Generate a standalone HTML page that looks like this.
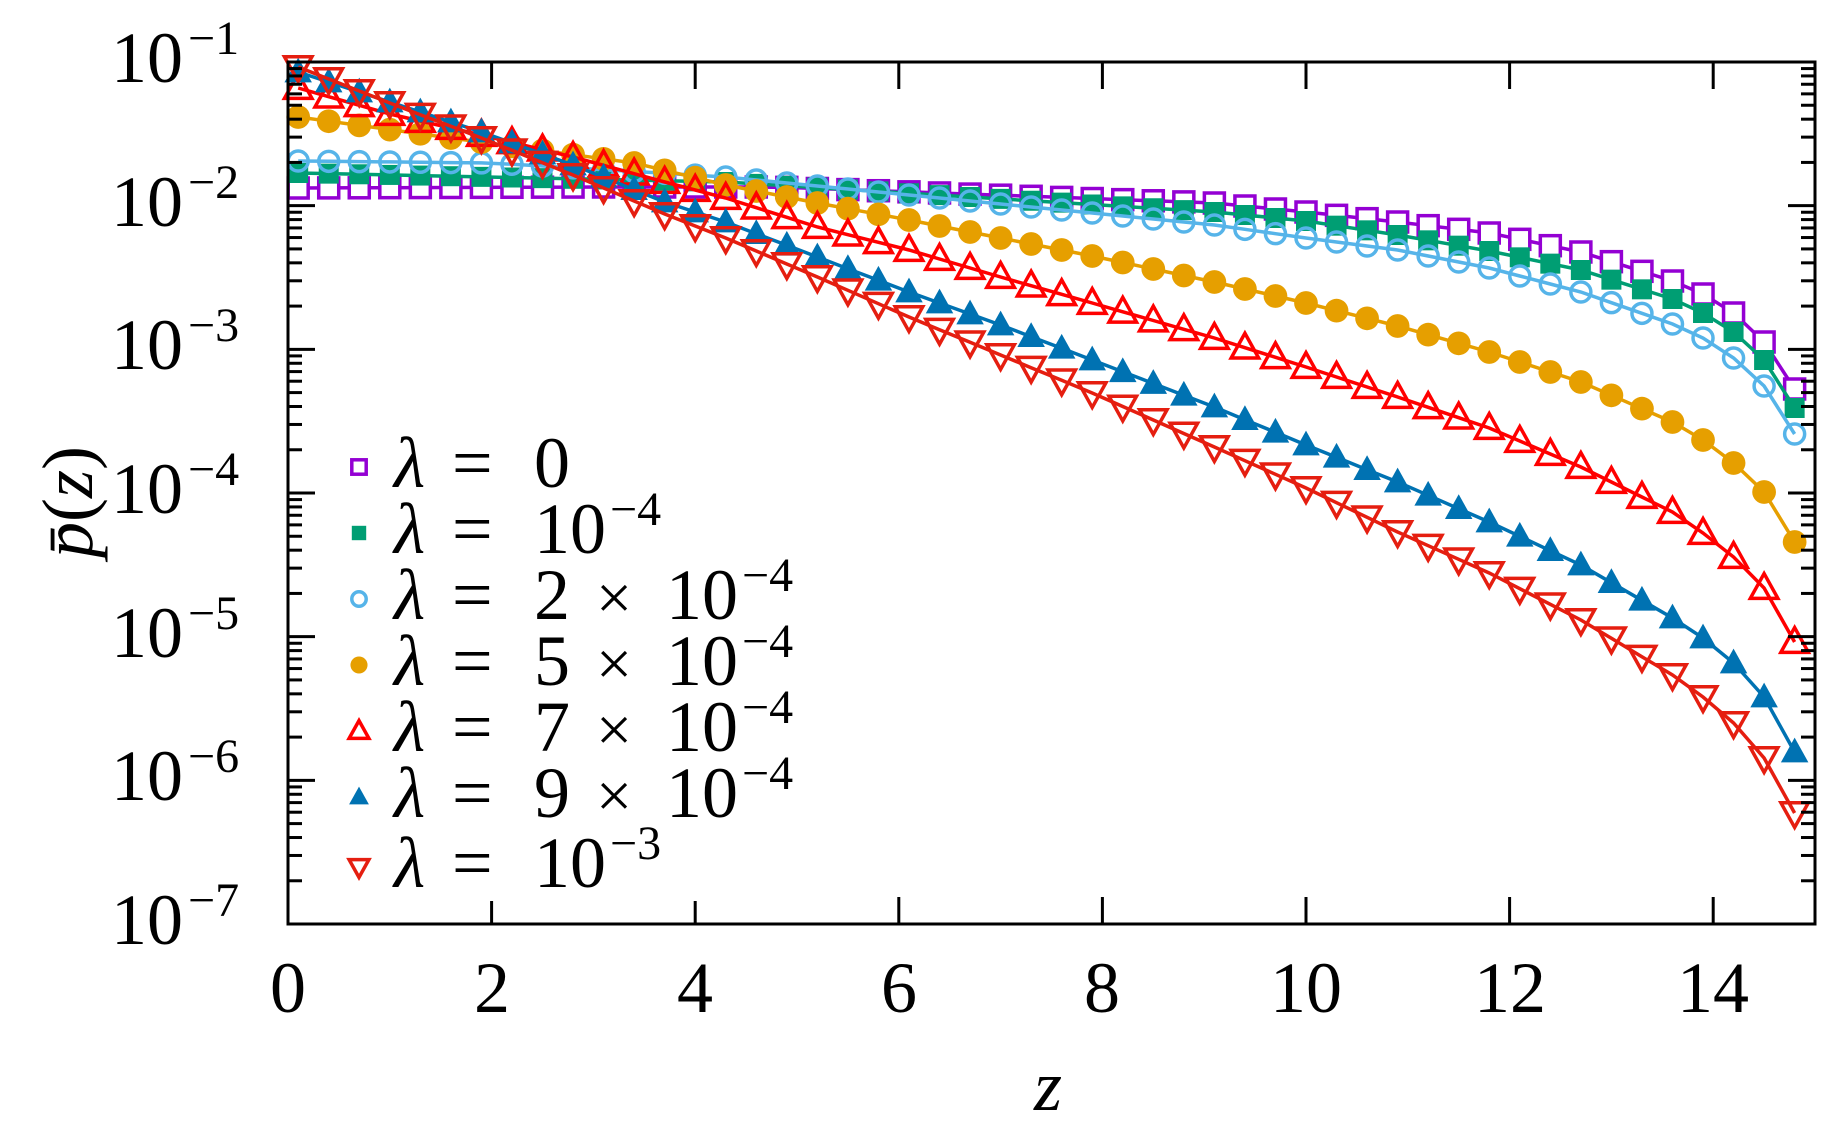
<!DOCTYPE html>
<html><head><meta charset="utf-8">
<style>
html,body{margin:0;padding:0;background:#fff;}
svg{display:block;}
text{font-family:"Liberation Serif","DejaVu Serif",serif;fill:#000;}
</style></head>
<body>
<svg id="s" width="1840" height="1139" viewBox="0 0 1840 1139" xmlns="http://www.w3.org/2000/svg">
<g id="data"></g>
<g id="axes"></g>
<g id="lab">
<text x="183" y="82" font-size="72" text-anchor="end">10</text><text x="188" y="54" font-size="48">−1</text>
<text x="183" y="226" font-size="72" text-anchor="end">10</text><text x="188" y="198" font-size="48">−2</text>
<text x="183" y="369" font-size="72" text-anchor="end">10</text><text x="188" y="341" font-size="48">−3</text>
<text x="183" y="513" font-size="72" text-anchor="end">10</text><text x="188" y="485" font-size="48">−4</text>
<text x="183" y="657" font-size="72" text-anchor="end">10</text><text x="188" y="629" font-size="48">−5</text>
<text x="183" y="800" font-size="72" text-anchor="end">10</text><text x="188" y="772" font-size="48">−6</text>
<text x="183" y="944" font-size="72" text-anchor="end">10</text><text x="188" y="916" font-size="48">−7</text>
<g font-size="72" text-anchor="middle">
<text x="288" y="1012">0</text><text x="492" y="1012">2</text><text x="695" y="1012">4</text><text x="899" y="1012">6</text>
<text x="1102" y="1012">8</text><text x="1306" y="1012">10</text><text x="1510" y="1012">12</text><text x="1713" y="1012">14</text>
</g>
<text x="1048" y="1110" font-size="72" font-style="italic" text-anchor="middle">z</text>
<text transform="translate(92,502) rotate(-90)" font-size="72" text-anchor="middle"><tspan font-style="italic">p̄</tspan>(<tspan font-style="italic">z</tspan>)</text>
</g>
<g id="leg"></g>
</svg>
<script>
var NS="http://www.w3.org/2000/svg";
function el(p,t,a){var e=document.createElementNS(NS,t);for(var k in a)e.setAttribute(k,a[k]);p.appendChild(e);return e;}
var L=288,R=1815,T=62,B=924,XS=101.8,DEC=143.67;
var ax=document.getElementById('axes');
el(ax,'rect',{x:L,y:T,width:R-L,height:B-T,fill:'none',stroke:'#000','stroke-width':3});
for(var z=0;z<=14;z+=2){var x=L+z*XS;
 el(ax,'line',{x1:x,y1:B,x2:x,y2:B-27,stroke:'#000','stroke-width':3});
 el(ax,'line',{x1:x,y1:T,x2:x,y2:T+27,stroke:'#000','stroke-width':3});}
for(var d=0;d<6;d++){var y0=T+d*DEC;
 if(d>0){el(ax,'line',{x1:L,y1:y0,x2:L+27,y2:y0,stroke:'#000','stroke-width':3});el(ax,'line',{x1:R,y1:y0,x2:R-27,y2:y0,stroke:'#000','stroke-width':3});}
 for(var m=2;m<=9;m++){var y=y0+DEC*(1-Math.log10(m));
  el(ax,'line',{x1:L,y1:y,x2:L+14,y2:y,stroke:'#000','stroke-width':3});
  el(ax,'line',{x1:R,y1:y,x2:R-14,y2:y,stroke:'#000','stroke-width':3});}}
var S=[
{c:'#9400d3',m:'so',k:[[0.1,188],[3,187],[4.8,187],[9.1,203],[10,212],[10.9,222],[11.8,233],[12.7,252],[13.6,281],[13.9,294],[14.2,313],[14.5,342],[14.8,389]]},
{c:'#009e73',m:'sf',k:[[0.1,173],[4.3,182],[9.1,212],[10,221],[10.9,235],[11.8,251],[12.7,270],[13.6,299],[13.9,313],[14.2,332],[14.5,360],[14.8,408]]},
{c:'#56b4e9',m:'co',k:[[0.1,161],[2,163],[4.3,177],[9.1,225],[10,238],[10.9,250],[11.8,268],[12.7,292],[13.6,324],[13.9,338],[14.2,358],[14.5,386],[14.8,434]]},
{c:'#e69f00',m:'cf',k:[[0.1,117],[1.6,138],[3.4,163],[4.3,185],[5.2,203],[6.1,220],[7,238],[7.9,256],[9.1,282],[10,303],[10.9,326],[11.8,352],[12.7,382],[13.6,422],[13.9,440],[14.2,463],[14.5,492],[14.8,542]]},
{c:'#ff0000',m:'uo',k:[[0.1,88],[1,114],[1.9,135],[2.8,157],[3.7,182],[4.3,198],[5.2,227],[6.1,250],[7,277],[7.9,303],[9.1,338],[10,367],[10.9,397],[11.8,428],[12.7,467],[13.6,512],[13.9,533],[14.2,557],[14.5,588],[14.8,642]]},
{c:'#0072b2',m:'uf',k:[[0.1,72],[1,102],[1.9,132],[2.8,165],[3.7,202],[4.3,222],[5.2,257],[6.1,292],[7,325],[7.9,360],[9.1,407],[10,445],[10.9,482],[11.8,522],[12.7,565],[13.6,618],[13.9,638],[14.2,663],[14.5,697],[14.8,752]]},
{c:'#e51e10',m:'do',k:[[0.1,67],[1,103],[1.9,138],[2.8,175],[3.7,214],[4.3,238],[5.2,277],[6.1,317],[7,355],[7.9,393],[9.1,447],[10,488],[10.9,532],[11.8,573],[12.7,620],[13.6,675],[13.9,697],[14.2,723],[14.5,758],[14.8,813]]}
];
function interp(k,z){for(var i=0;i<k.length-1;i++){if(z<=k[i+1][0]+1e-9){var t=(z-k[i][0])/(k[i+1][0]-k[i][0]);return k[i][1]+t*(k[i+1][1]-k[i][1]);}}return k[k.length-1][1];}
function marker(g,m,c,x,y,sc){sc=sc||1;
 var f=m[1]=='f';
 if(m[0]=='s'){var h=8*sc;el(g,'rect',{x:x-h,y:y-h,width:2*h,height:2*h,fill:f?c:'#fff',stroke:c,'stroke-width':f?0:3.5});}
 else if(m[0]=='c'){var r=f?9.5*sc:8*sc;el(g,'circle',{cx:x,cy:y,r:r,fill:f?c:'none',stroke:c,'stroke-width':f?0:3.5});}
 else if(m[0]=='u'){var a=11*sc;el(g,'polygon',{points:(x-a)+','+(y+a*0.75)+' '+(x+a)+','+(y+a*0.75)+' '+x+','+(y-a*1.05),fill:f?c:'none',stroke:c,'stroke-width':f?0:3.5,'stroke-linejoin':'miter'});}
 else {var a=11*sc;el(g,'polygon',{points:(x-a)+','+(y-a*0.75)+' '+(x+a)+','+(y-a*0.75)+' '+x+','+(y+a*1.05),fill:'none',stroke:c,'stroke-width':3.5});}
}
var dg=document.getElementById('data');
S.forEach(function(s){var pts=[];for(var i=0;i<50;i++){var z=0.1+0.3*i;pts.push([L+z*XS,interp(s.k,z)]);}
 el(dg,'polyline',{points:pts.map(function(p){return p[0].toFixed(1)+','+p[1].toFixed(1);}).join(' '),fill:'none',stroke:s.c,'stroke-width':3.5});
 pts.forEach(function(p){marker(dg,s.m,s.c,p[0],p[1],1.25);});
});
var lg=document.getElementById('leg');
var labels=['0','','2','5','7','9',''];
var rows=[467,533,599,665,731,797,867];
S.forEach(function(s,i){var y=rows[i];
 el(lg,'rect',{x:330,y:y-30,width:370,height:64,fill:'#fff'});
});
S.forEach(function(s,i){var y=rows[i];
 marker(lg,s.m,s.c,359,y,0.9);
 var t=el(lg,'text',{x:394,y:y+20,'font-size':72,'font-style':'italic'});t.textContent='λ';
 var e=el(lg,'text',{x:452,y:y+20,'font-size':72});e.textContent='=';
 if(i==0){var z0=el(lg,'text',{x:534,y:y+20,'font-size':72});z0.textContent='0';}
 else if(i==1||i==6){var a=el(lg,'text',{x:534,y:y+20,'font-size':72});a.textContent='10';
   var b=el(lg,'text',{x:610,y:y-8,'font-size':48});b.textContent=i==1?'−4':'−3';}
 else{var n=el(lg,'text',{x:534,y:y+20,'font-size':72});n.textContent=labels[i];
   var x2=el(lg,'text',{x:596,y:y+20,'font-size':64});x2.textContent='×';
   var a2=el(lg,'text',{x:666,y:y+20,'font-size':72});a2.textContent='10';
   var b2=el(lg,'text',{x:742,y:y-8,'font-size':48});b2.textContent='−4';}
});
</script>
</body></html>
